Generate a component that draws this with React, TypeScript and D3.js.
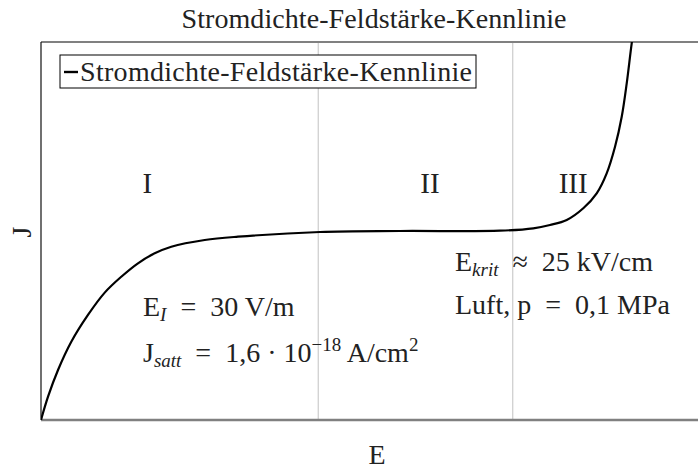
import React from "react";
import * as d3 from "d3";

// Current density vs. field strength (arbitrary units, 0–100 on both axes)
const fieldStrength = [
  0, 1.07, 2.59, 4.61, 7.15, 9.7, 12.22, 14.76, 17.31, 19.83, 24.92, 29.98,
  42.47, 54.64, 69.86, 74.93, 77.47, 80.02, 82.54, 84.58, 86.1, 87.37, 88.39,
  89.15, 89.91, 90.3,
];
const currentDensity = [
  0, 6.16, 13.23, 20.7, 27.8, 33.7, 37.9, 41.46, 44.1, 45.85, 47.62, 48.49,
  49.74, 50.0, 50.08, 50.71, 51.59, 52.91, 56.01, 59.97, 65.26, 72.3, 80.24,
  89.07, 99.66, 104,
];

// Region boundaries (vertical grid lines)
const gridE = [42.2, 71.8];

const regionLabels = ["I", "II", "III"];
const regionE = [16.2, 59.2, 81.0];

const titleText = "Stromdichte-Feldstärke-Kennlinie";
const legendText = "Stromdichte-Feldstärke-Kennlinie";
const xLabel = "E";
const yLabel = "J";

const W = 698;
const H = 470;
const left = 41;
const right = 698;
const top = 42;
const bottom = 420;

const FONT = "'Liberation Serif', 'Times New Roman', serif";
const SP = "\u2002"; // wider math spacing around relations

export default function App() {
  const x = d3.scaleLinear().domain([0, 100]).range([left, right]);
  const y = d3.scaleLinear().domain([0, 100]).range([bottom, top]);

  const points: [number, number][] = fieldStrength.map((e, i) => [e, currentDensity[i]]);
  const line = d3
    .line<[number, number]>()
    .x((d) => x(d[0]))
    .y((d) => y(d[1]))
    .curve(d3.curveCatmullRom.alpha(0.5));

  const fs = 28;
  const sub = 19;

  return (
    <svg
      width={W}
      height={H}
      style={{ position: "absolute", left: 0, top: 0, background: "#fff" }}
      fontFamily={FONT}
    >
      <defs>
        <clipPath id="plot-clip">
          <rect x={left} y={top} width={right - left} height={bottom - top} />
        </clipPath>
      </defs>
      <rect x={0} y={0} width={W} height={H} fill="#fff" />

      {/* grid */}
      {gridE.map((g) => (
        <line
          key={g}
          x1={x(g)}
          x2={x(g)}
          y1={top}
          y2={bottom}
          stroke="#cccccc"
          strokeWidth={1.2}
        />
      ))}

      {/* axis frame */}
      <line x1={left} x2={right} y1={top} y2={top} stroke="#808080" strokeWidth={2} />
      <line x1={left} x2={right} y1={bottom} y2={bottom} stroke="#808080" strokeWidth={2.4} />
      <line x1={left} x2={left} y1={top} y2={bottom} stroke="#111" strokeWidth={1.2} />

      {/* curve */}
      <path
        d={line(points) ?? ""}
        fill="none"
        stroke="#000"
        strokeWidth={2.2}
        clipPath="url(#plot-clip)"
      />

      {/* region labels */}
      {regionLabels.map((r, i) => (
        <text
          key={r}
          x={x(regionE[i])}
          y={193}
          textAnchor="middle"
          fontSize={29}
          fill="#222"
        >
          {r}
        </text>
      ))}

      {/* annotations */}
      <text x={143} y={316} fontSize={fs} fill="#222">
        <tspan>E</tspan>
        <tspan fontStyle="italic" fontSize={sub} dy={5}>I</tspan>
        <tspan dy={-5}>{`${SP}=${SP}30 V/m`}</tspan>
      </text>
      <text x={143} y={362} fontSize={fs} fill="#222">
        <tspan>J</tspan>
        <tspan fontStyle="italic" fontSize={sub} dy={5}>satt</tspan>
        <tspan dy={-5}>{`${SP}=${SP}1,6 · 10`}</tspan>
        <tspan fontSize={sub} dy={-11}>−18</tspan>
        <tspan dy={11}> A/cm</tspan>
        <tspan fontSize={sub} dy={-11}>2</tspan>
      </text>
      <text x={455} y={271} fontSize={fs} fill="#222">
        <tspan>E</tspan>
        <tspan fontStyle="italic" fontSize={sub} dy={5}>krit</tspan>
        <tspan dy={-5}>{`${SP}≈${SP}25 kV/cm`}</tspan>
      </text>
      <text x={455} y={314} fontSize={fs} fill="#222">
        {`Luft, p${SP}=${SP}0,1 MPa`}
      </text>

      {/* legend */}
      <rect x={60} y={55} width={416} height={33} fill="#fff" stroke="#000" strokeWidth={1} />
      <line x1={64} x2={78} y1={72} y2={72} stroke="#000" strokeWidth={2.4} />
      <text x={80} y={81} fontSize={fs} fill="#222" textLength={392} lengthAdjust="spacing">
        {legendText}
      </text>

      {/* title and axis labels */}
      <text x={374} y={28} textAnchor="middle" fontSize={fs} fill="#222" textLength={385} lengthAdjust="spacing">
        {titleText}
      </text>
      <text x={377} y={464} textAnchor="middle" fontSize={fs} fill="#222">
        {xLabel}
      </text>
      <text
        transform={`translate(31,232) rotate(-90)`}
        textAnchor="middle"
        fontSize={fs}
        fill="#222"
      >
        {yLabel}
      </text>
    </svg>
  );
}
